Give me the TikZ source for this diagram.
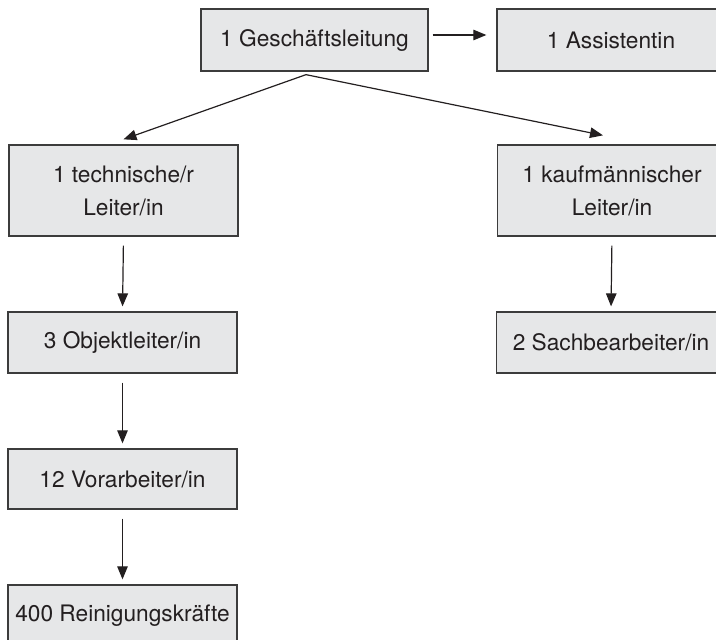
\documentclass[tikz,border=0pt]{standalone}
\usepackage{fontspec}
\setmainfont{TeX Gyre Heros}
\usetikzlibrary{arrows.meta}
\definecolor{boxfill}{RGB}{230,231,232}
\definecolor{ink}{RGB}{35,31,32}
\definecolor{edge}{RGB}{60,60,60}
\tikzset{
  orgbox/.style={draw=edge, line width=1.3pt, fill=boxfill, text=ink,
    minimum width=229pt, inner sep=0pt, align=center,
    font=\fontsize{22.7}{33}\selectfont},
  arr/.style={draw=ink, line width=1.2pt, -{Triangle[length=13pt,width=10.5pt]}},
  varr/.style={arr, shorten <=9pt, shorten >=5pt}
}
\begin{document}
\begin{tikzpicture}[x=1pt,y=-1pt]
\useasboundingbox (0,0) rectangle (716,640);
\clip (0,0) rectangle (716,640);
\node[orgbox, minimum width=227pt, minimum height=62pt] (gl) at (314.5,40) {1 Geschäftsleitung};
\node[orgbox, minimum width=228pt, minimum height=62pt] (as) at (611,40) {1 Assistentin};
\node[orgbox, minimum height=91pt] (tech) at (123.5,190.5) {1 technische/r\\Leiter/in};
\node[orgbox, minimum height=91pt] (kfm) at (612,190.5) {1 kaufmännischer\\Leiter/in};
\node[orgbox, minimum height=61pt] (obj) at (122.5,342.5) {3 Objektleiter/in};
\node[orgbox, minimum height=61pt] (sach) at (611,342.5) {2 Sachbearbeiter/in};
\node[orgbox, minimum height=60pt] (vor) at (122.5,479) {12 Vorarbeiter/in};
\node[orgbox, minimum height=62pt] (rein) at (122.5,616) {400 Reinigungskräfte};
\coordinate (split) at ([xshift=-8.5pt,yshift=-3pt]gl.south);
\draw[arr] ([xshift=4pt,yshift=5pt]gl.east) -- ([xshift=-10pt,yshift=5pt]as.west);
\draw[arr] (split) -- ([yshift=5pt]tech.north);
\draw[arr] (split) -- ([xshift=-9pt,yshift=9pt]kfm.north);
\draw[varr] (tech.south) -- (obj.north);
\draw[varr] (obj.south) -- (vor.north);
\draw[varr] (vor.south) -- (rein.north);
\draw[varr] (kfm.south) -- (sach.north);
\end{tikzpicture}
\end{document}
